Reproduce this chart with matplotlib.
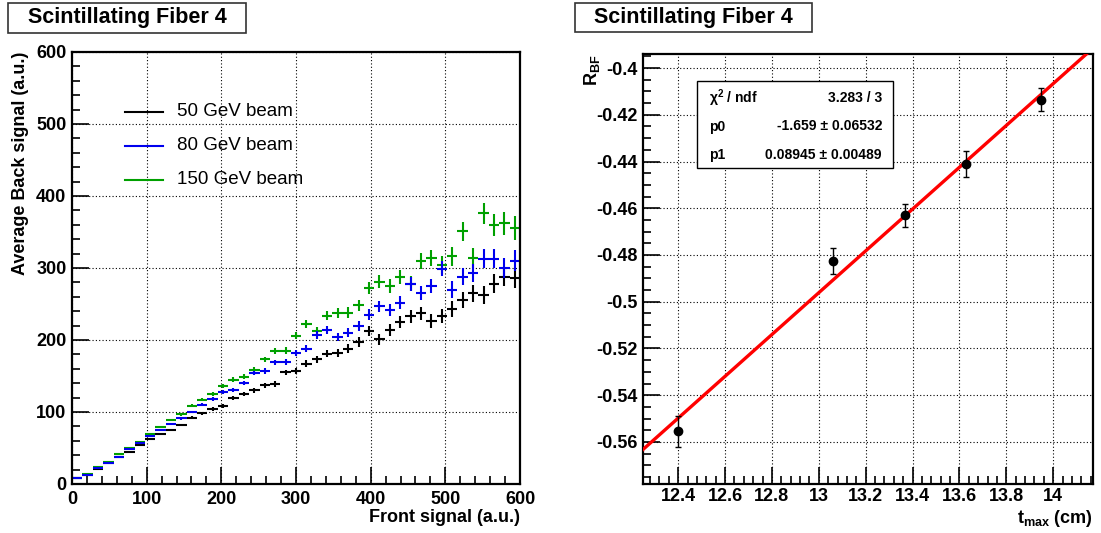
import matplotlib
matplotlib.use("Agg")
import matplotlib.pyplot as plt
import numpy as np
from matplotlib.patches import Rectangle
from matplotlib.ticker import MultipleLocator

plt.rcParams['font.family'] = ['Liberation Sans', 'DejaVu Sans']
plt.rcParams['mathtext.fontset'] = 'custom'
plt.rcParams['mathtext.bf'] = 'Liberation Sans:bold'
plt.rcParams['mathtext.rm'] = 'Liberation Sans:bold'

# ---- left panel data: average back signal per front-signal bin ----
bin_edges = np.linspace(0, 600, 44)
back_50 = [8, 13, 21, 29, 37, 45, 54, 62, 69, 75, 82, 92, 98, 104, 108, 119, 125, 130,
           137, 139, 155, 157, 167, 173, 181, 182, 188, 197, 212, 201, 214, 225, 233,
           237, 226, 233, 243, 255, 265, 263, 278, 288, 286]
err_50 = [0.5, 0.6, 0.7, 0.8, 1.0, 1.1, 1.2, 1.4, 1.5, 1.7, 1.9, 2.0, 2.2, 2.4, 2.6, 2.8,
          3.0, 3.2, 3.5, 3.7, 4.0, 4.3, 4.6, 5.0, 5.3, 5.7, 6.0, 6.5, 7.0, 7.3, 7.8, 8.2,
          8.7, 9.2, 9.6, 10.0, 10.5, 11.0, 12.0, 12.5, 13.0, 13.5, 14.0]
back_80 = [8, 13, 22, 29, 38, 49, 57, 66, 75, 83, 91, 100, 110, 118, 128, 131, 140, 154,
           157, 169, 169, 182, 188, 207, 214, 204, 210, 219, 235, 247, 242, 252, 278,
           265, 275, 299, 270, 288, 293, 313, 313, 300, 310]
err_80 = [0.5, 0.6, 0.7, 0.8, 1.0, 1.1, 1.2, 1.4, 1.5, 1.7, 1.9, 2.0, 2.2, 2.4, 2.6, 2.8,
          3.0, 3.3, 3.6, 3.9, 4.2, 4.5, 4.8, 5.2, 5.6, 6.0, 6.4, 6.9, 7.4, 7.8, 8.3, 8.8,
          9.3, 9.8, 10.3, 10.8, 11.3, 11.8, 12.4, 13.0, 13.5, 14.0, 14.5]
back_150 = [9, 14, 23, 31, 42, 50, 59, 70, 79, 89, 97, 109, 117, 125, 136, 145, 149, 159,
            173, 185, 185, 206, 222, 212, 234, 238, 238, 248, 272, 281, 275, 287, 278,
            310, 314, 304, 316, 351, 314, 376, 360, 362, 356]
err_150 = [0.5, 0.6, 0.7, 0.9, 1.0, 1.2, 1.3, 1.5, 1.7, 1.9, 2.0, 2.2, 2.4, 2.6, 2.8, 3.0,
           3.3, 3.6, 3.9, 4.2, 4.6, 5.0, 5.4, 5.8, 6.3, 6.8, 7.2, 7.7, 8.2, 8.8, 9.3,
           9.8, 10.3, 10.8, 11.4, 12.0, 12.6, 13.2, 13.8, 14.4, 15.0, 15.6, 16.5]
series = [("50 GeV beam", back_50, err_50, "black"),
          ("80 GeV beam", back_80, err_80, "#0000ee"),
          ("150 GeV beam", back_150, err_150, "#00a000")]

# ---- right panel data: R_BF vs t_max with linear fit ----
t_max = [12.40, 13.06, 13.37, 13.63, 13.95]
r_bf = [-0.5555, -0.4825, -0.4630, -0.4410, -0.4135]
r_err = [0.0065, 0.0055, 0.0050, 0.0055, 0.0050]
p0, p1 = -1.659, 0.08945
stats_rows = [("χ$^{2}$ / ndf", "3.283 / 3"),
              ("p0", "-1.659 ± 0.06532"),
              ("p1", "0.08945 ± 0.00489")]

W, H = 1101, 533
fig = plt.figure(figsize=(W / 100, H / 100), dpi=100)


def fig_box(x0, y0, x1, y1):
    # pixel box (top-left origin) -> figure fraction [l, b, w, h]
    return [x0 / W, 1 - y1 / H, (x1 - x0) / W, (y1 - y0) / H]


def style_axes(ax):
    for s in ax.spines.values():
        s.set_linewidth(1.6)
    ax.tick_params(which='both', direction='in', top=False, right=False,
                   labelsize=13, width=1.2)
    ax.tick_params(which='major', length=12)
    ax.tick_params(which='minor', length=6)
    for lab in ax.get_xticklabels() + ax.get_yticklabels():
        lab.set_fontweight('bold')
    ax.grid(which='major', color='black', linestyle=(0, (1, 2)), linewidth=0.8)


def title_box(x0, y0, x1, y1, text):
    fig.patches.append(Rectangle((x0 / W, 1 - y1 / H), (x1 - x0) / W, (y1 - y0) / H,
                                 transform=fig.transFigure, facecolor='white',
                                 edgecolor='#333333', linewidth=1.2))
    fig.text((x0 + x1) / 2 / W, 1 - (y0 + y1) / 2 / H, text, ha='center', va='center',
             fontsize=15.5, fontweight='bold')


# ---------------- left panel ----------------
ax1 = fig.add_axes(fig_box(72, 52, 520, 484))
centers = 0.5 * (bin_edges[:-1] + bin_edges[1:])
half = 0.5 * np.diff(bin_edges)
for name, vals, errs, col in [series[0], series[2], series[1]]:
    ax1.errorbar(centers, vals, yerr=errs, xerr=half, fmt='none', ecolor=col,
                 elinewidth=1.5, capsize=0)
ax1.set_xlim(0, 600)
ax1.set_ylim(0, 600)
ax1.xaxis.set_major_locator(MultipleLocator(100))
ax1.xaxis.set_minor_locator(MultipleLocator(20))
ax1.yaxis.set_major_locator(MultipleLocator(100))
ax1.yaxis.set_minor_locator(MultipleLocator(20))
style_axes(ax1)
ax1.tick_params(axis='x', pad=5)
ax1.tick_params(axis='y', pad=4)
ax1.set_xlabel("Front signal (a.u.)", loc='right', fontsize=13, fontweight='bold')
ax1.xaxis.set_label_coords(1.0, -0.058)
ax1.set_ylabel("Average Back signal (a.u.)", loc='top', fontsize=13, fontweight='bold')
ax1.yaxis.set_label_coords(-0.097, 1.0)

# legend drawn by hand, no frame
for i, (name, vals, errs, col) in enumerate(series):
    yy = (484 - (112 + 34 * i)) / 432
    ax1.plot([0.118, 0.203], [yy, yy], color=col, linewidth=1.5, transform=ax1.transAxes)
    ax1.text(0.234, yy, name, transform=ax1.transAxes, va='center', ha='left',
             fontsize=13.5)

title_box(8, 3, 246, 33, "Scintillating Fiber 4")

# ---------------- right panel ----------------
ax2 = fig.add_axes(fig_box(643, 54, 1093, 484))
xlo, xhi = 12.25, 14.17
ax2.set_xlim(xlo, xhi)
ax2.set_ylim(-0.578, -0.394)
xf = np.array([xlo, xhi])
ax2.plot(xf, p0 + p1 * xf, color='red', linewidth=2.4, zorder=3)
ax2.errorbar(t_max, r_bf, yerr=r_err, fmt='o', color='black', markersize=6,
             elinewidth=1.0, capsize=2, capthick=1.0, zorder=4)
ax2.xaxis.set_major_locator(MultipleLocator(0.2))
ax2.xaxis.set_minor_locator(MultipleLocator(0.04))
ax2.yaxis.set_major_locator(MultipleLocator(0.02))
ax2.yaxis.set_minor_locator(MultipleLocator(0.005))
ax2.xaxis.set_major_formatter(plt.FuncFormatter(lambda v, p: f"{v:g}"))
ax2.yaxis.set_major_formatter(plt.FuncFormatter(lambda v, p: f"{v:.2f}".rstrip('0')))
style_axes(ax2)
ax2.tick_params(axis='x', pad=3)
ax2.tick_params(axis='y', pad=4)
ax2.set_xlabel(r"$\mathbf{t}_{\mathbf{max}}$ (cm)", loc='right', fontsize=13,
               fontweight='bold')
ax2.xaxis.set_label_coords(1.0, -0.056)
ax2.set_ylabel(r"$\mathbf{R}_{\mathbf{BF}}$", loc='top', fontsize=13, fontweight='bold')
ax2.yaxis.set_label_coords(-0.092, 1.0)

# fit statistics box
bx0, bx1 = (697 - 643) / 450, (893 - 643) / 450
by0, by1 = (484 - 168) / 430, (484 - 81) / 430
ax2.add_patch(Rectangle((bx0, by0), bx1 - bx0, by1 - by0, transform=ax2.transAxes,
                        facecolor='white', edgecolor='black', linewidth=1.0, zorder=5))
for i, (k, v) in enumerate(stats_rows):
    yy = (484 - (98 + 28.5 * i)) / 430
    ax2.text((709 - 643) / 450, yy, k, transform=ax2.transAxes, ha='left', va='center',
             fontsize=10, fontweight='bold', zorder=6)
    ax2.text((882 - 643) / 450, yy, v, transform=ax2.transAxes, ha='right', va='center',
             fontsize=10, fontweight='bold', zorder=6)

title_box(575, 3, 812, 32, "Scintillating Fiber 4")

fig.savefig("out.png", dpi=100, facecolor='white')
